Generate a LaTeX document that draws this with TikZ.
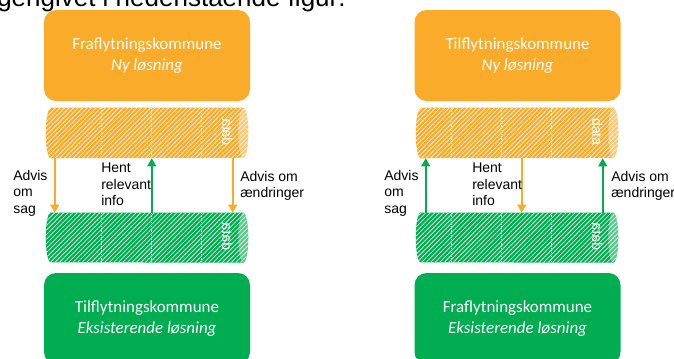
\documentclass[tikz,border=0pt]{standalone}
\usepackage{fontspec}
\setmainfont{Carlito}
\newfontfamily\arialf{Liberation Sans}
\usetikzlibrary{patterns.meta,arrows.meta,calc,fit}
\definecolor{oran}{RGB}{251,171,42}
\definecolor{gree}{RGB}{0,173,80}
\tikzset{
  boxnode/.style={rounded corners=9pt, minimum width=154.5pt, minimum height=68.25pt,
    inner sep=0, align=center, text=white, font=\fontsize{12.7pt}{15.6pt}\selectfont},
  obox/.style={boxnode, fill=oran},
  gbox/.style={boxnode, fill=gree},
  cylnode/.style={inner sep=0, draw=none},
  divider/.style={white, densely dotted, line width=0.4pt},
  datalbl/.style={text=white, rotate=-90, inner sep=0, font=\arialf\fontsize{10.5pt}{12pt}\selectfont},
  lbl/.style={anchor=west, inner sep=0, align=left, font=\arialf\fontsize{10.5pt}{12.4pt}\selectfont},
  oarr/.style={draw=oran, line width=1.5pt, -{Triangle[width=6.5pt,length=6pt]}},
  garr/.style={draw=gree, line width=1.5pt, -{Triangle[width=6.5pt,length=6pt]}},
}
\newcommand\cylbody[2]{%
  \fill[#2] ($(#1.north west)+(5,0)$) -- ($(#1.north east)+(-5,0)$)
     arc[start angle=90,end angle=-90,x radius=3.75pt,y radius=18.75pt]
     -- ($(#1.south west)+(5,0)$)
     arc[start angle=270,end angle=90,x radius=3.75pt,y radius=18.75pt] -- cycle;
  \fill[pattern={Lines[angle=45,distance=2.4pt,line width=0.6pt]}, pattern color=white!80!#2]
     ($(#1.north west)+(5,0)$) -- ($(#1.north east)+(-5,0)$)
     arc[start angle=90,end angle=-90,x radius=3.75pt,y radius=18.75pt]
     -- ($(#1.south west)+(5,0)$)
     arc[start angle=270,end angle=90,x radius=3.75pt,y radius=18.75pt] -- cycle;
  \fill[white,opacity=0.35] ($(#1.east)+(-5,0)$) ellipse[x radius=3.75pt,y radius=18.75pt];
}
\begin{document}
\begin{tikzpicture}[x=0.75pt,y=-0.75pt]
\useasboundingbox (0,0) rectangle (674,358);
\clip (0,0) rectangle (674,358);

% title line (cut off at the top, as in the reference)
\node[anchor=base west, inner sep=0, font=\arialf\fontsize{19.5pt}{22pt}\selectfont] (title) at (-3,6) {gengivet i nedenstående figur:};

% ===== left panel =====
\node[obox] (lb1) at (147,55.5) {Fraflytningskommune\\\textit{Ny løsning}};
\node[gbox] (lb2) at (147,318.5) {Tilflytningskommune\\\textit{Eksisterende løsning}};
\node[cylnode, fit={(46,108) (248,158)}] (lc1) {};
\node[cylnode, fit={(46,213) (248,262)}] (lc2) {};
\cylbody{lc1}{oran}
\cylbody{lc2}{gree}
\foreach \d in {56,106,156}{
  \draw[divider] ($(lc1.north west)+(\d,0)$) -- ($(lc1.south west)+(\d,0)$);
  \draw[divider] ($(lc2.north west)+(\d,0)$) -- ($(lc2.south west)+(\d,0)$);
}
\node[datalbl] (ld1) at ($(lc1.east)+(-21,-1)$) {\reflectbox{data}};
\node[datalbl] (ld2) at ($(lc2.east)+(-21,-1)$) {\reflectbox{data}};

\draw[oarr] ($(lc1.south west)+(9,0)$) -- ($(lc2.north west)+(9,0)$);
\draw[garr] ($(lc2.north west)+(106,0)$) -- ($(lc1.south west)+(106,0)$);
\draw[oarr] ($(lc1.south west)+(187,0)$) -- ($(lc2.north west)+(187,0)$);

\node[lbl] (ll1) at (13,193) {Advis\\om\\sag};
\node[lbl] (ll2) at (101,184.5) {Hent\\relevant\\info};
\node[lbl] (ll3) at (240,186) {Advis om\\ændringer};

% ===== right panel =====
\node[obox] (rb1) at (517.5,55.5) {Tilflytningskommune\\\textit{Ny løsning}};
\node[gbox] (rb2) at (517.5,318.5) {Fraflytningskommune\\\textit{Eksisterende løsning}};
\node[cylnode, fit={(416,108) (618,158)}] (rc1) {};
\node[cylnode, fit={(416,213) (618,262)}] (rc2) {};
\cylbody{rc1}{oran}
\cylbody{rc2}{gree}
\foreach \d in {36,86,136}{
  \draw[divider] ($(rc1.north west)+(\d,0)$) -- ($(rc1.south west)+(\d,0)$);
  \draw[divider] ($(rc2.north west)+(\d,0)$) -- ($(rc2.south west)+(\d,0)$);
}
\node[datalbl] (rd1) at ($(rc1.east)+(-21,-1)$) {data};
\node[datalbl] (rd2) at ($(rc2.east)+(-21,-1)$) {\reflectbox{data}};

\draw[garr] ($(rc2.north west)+(10,0)$) -- ($(rc1.south west)+(10,0)$);
\draw[oarr] ($(rc1.south west)+(106,0)$) -- ($(rc2.north west)+(106,0)$);
\draw[garr] ($(rc2.north west)+(187,0)$) -- ($(rc1.south west)+(187,0)$);

\node[lbl] (rl1) at (384,193) {Advis\\om\\sag};
\node[lbl] (rl2) at (472,184.5) {Hent\\relevant\\info};
\node[lbl] (rl3) at (611,186) {Advis om\\ændringer};
\end{tikzpicture}
\end{document}
